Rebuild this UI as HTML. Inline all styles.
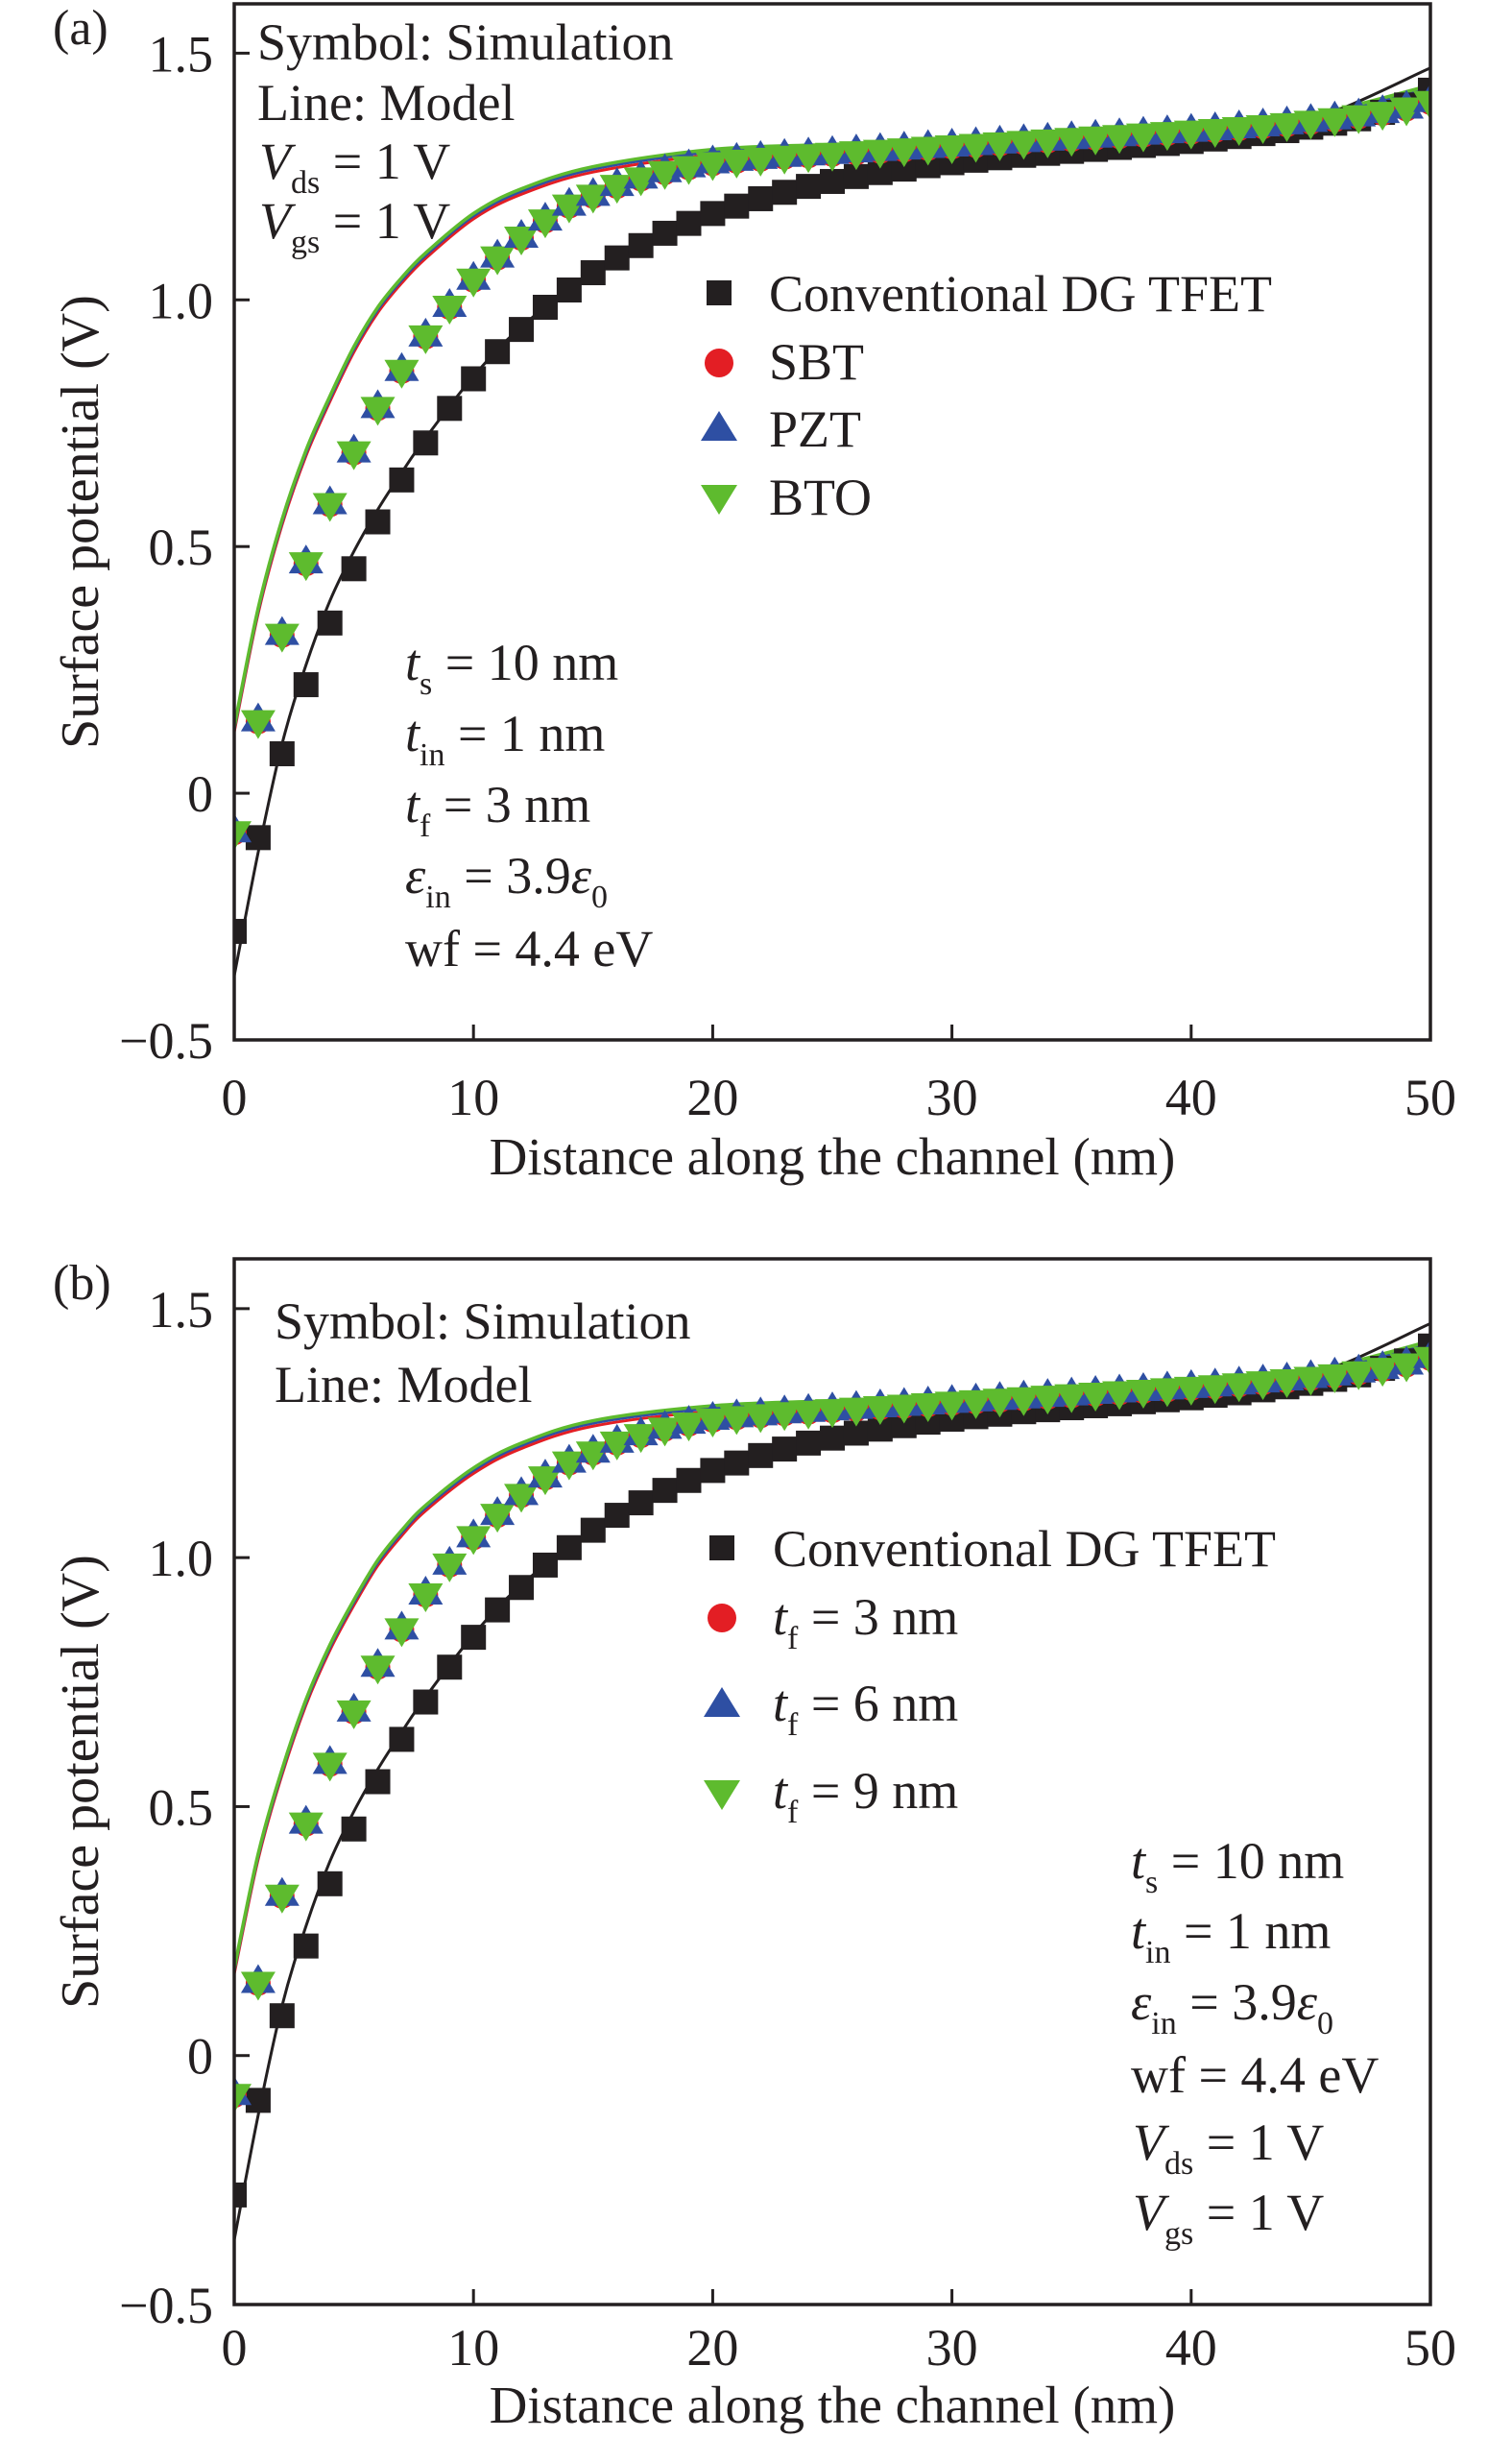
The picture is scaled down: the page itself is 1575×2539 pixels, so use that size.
<!DOCTYPE html>
<html><head><meta charset="utf-8"><style>
html,body{margin:0;padding:0;background:#fff}
svg{display:block}
text{font-family:"Liberation Serif",serif;fill:#231f20}
</style></head><body>
<svg id="s" width="1575" height="2539" viewBox="0 0 1575 2539" xmlns="http://www.w3.org/2000/svg"></svg>
<script>
const xSim = [0,1,2,3,4,5,6,7,8,9,10,11,12,13,14,15,16,17,18,19,20,21,22,23,24,25,26,27,28,29,30,31,32,33,34,35,36,37,38,39,40,41,42,43,44,45,46,47,48,49,50];
const convSim = [-0.28,-0.09,0.08,0.22,0.345,0.455,0.55,0.635,0.71,0.78,0.84,0.895,0.94,0.985,1.02,1.055,1.085,1.11,1.135,1.155,1.175,1.19,1.205,1.218,1.23,1.24,1.25,1.258,1.265,1.272,1.278,1.283,1.288,1.293,1.297,1.301,1.305,1.309,1.313,1.317,1.321,1.326,1.331,1.337,1.343,1.35,1.358,1.367,1.38,1.395,1.425];
const feSim = [-0.08,0.145,0.32,0.465,0.585,0.69,0.78,0.855,0.925,0.985,1.04,1.085,1.125,1.16,1.19,1.21,1.23,1.245,1.258,1.268,1.276,1.281,1.285,1.289,1.292,1.295,1.298,1.301,1.304,1.307,1.31,1.313,1.316,1.319,1.322,1.325,1.328,1.331,1.334,1.337,1.34,1.343,1.347,1.351,1.355,1.36,1.365,1.371,1.378,1.387,1.4];
const xModel = [0,1,2,3,4,5,6,7,8,10,12,15,20,25,30,35,40,45,50];
const convModel = [-0.37,-0.12,0.1,0.26,0.39,0.49,0.575,0.65,0.72,0.845,0.945,1.055,1.18,1.245,1.28,1.3,1.325,1.365,1.47];
const feModelA = [0.13,0.37,0.55,0.69,0.8,0.9,0.98,1.04,1.09,1.17,1.22,1.265,1.3,1.31,1.32,1.33,1.345,1.37,1.43];
const feModelB = [0.17,0.4,0.57,0.71,0.82,0.91,0.99,1.05,1.1,1.175,1.225,1.27,1.3,1.31,1.32,1.33,1.345,1.37,1.43];
const yTicks = [-0.5,0,0.5,1.0,1.5];
const yTickLabels = ["\u22120.5","0","0.5","1.0","1.5"];
const xTicks = [0,10,20,30,40,50];

const NS="http://www.w3.org/2000/svg";
const svg=document.getElementById('s');
function mk(tag,attrs,parent){const e=document.createElementNS(NS,tag);for(const k in attrs)e.setAttribute(k,attrs[k]);(parent||svg).appendChild(e);return e;}

function panel(P){
  const g=mk('g',{});
  
  
  const L=244,R=1490,T=P.top,B=P.bottom;
  const xs=v=>L+(v/50)*(R-L);
  const ys=v=>B-(v+0.5)/2.1*(B-T);
  const cid='c'+P.id;
  const cp=mk('clipPath',{id:cid},g);mk('rect',{x:L,y:T,width:R-L,height:B-T},cp);
  const plot=mk('g',{'clip-path':'url(#'+cid+')'},g);
  
  
  function pathOf(xa,ya){
    const pts=xa.map((x,i)=>[xs(x),ys(ya[i])]);
    let d='M'+pts[0][0]+','+pts[0][1];
    for(let i=0;i<pts.length-1;i++){
      const p0=pts[Math.max(0,i-1)],p1=pts[i],p2=pts[i+1],p3=pts[Math.min(pts.length-1,i+2)];
      const c1=[p1[0]+(p2[0]-p0[0])/6,p1[1]+(p2[1]-p0[1])/6];
      const c2=[p2[0]-(p3[0]-p1[0])/6,p2[1]-(p3[1]-p1[1])/6];
      d+=` C${c1[0]},${c1[1]} ${c2[0]},${c2[1]} ${p2[0]},${p2[1]}`;
    }
    return d;
  }
  const fm=P.feModel;
  const l1=mk('path',{d:pathOf(xModel,fm.map(v=>v-0.006)),fill:'none',stroke:'#e31e24','stroke-width':3},plot);
  
  const l2=mk('path',{d:pathOf(xModel,fm),fill:'none',stroke:'#2e4fa3','stroke-width':3},plot);
  
  const l3=mk('path',{d:pathOf(xModel,fm.map(v=>v+0.005)),fill:'none',stroke:'#5ebb2e','stroke-width':3.5},plot);
  
  const l4=mk('path',{d:pathOf(xModel,convModel),fill:'none',stroke:'#231f20','stroke-width':3},plot);
  
  xSim.forEach((x,i)=>{
    const cx=xs(x),cy=ys(convSim[i]);
    const r=mk('rect',{x:cx-13,y:cy-13,width:26,height:26,fill:'#231f20'},plot);
    
  });
  xSim.forEach((x,i)=>{
    const cx=xs(x),cy=ys(feSim[i]);
    const c=mk('circle',{cx:cx,cy:cy,r:13,fill:'#e31e24'},plot);
    
    const t=mk('polygon',{points:`${cx-18},${cy+10} ${cx+18},${cy+10} ${cx},${cy-20}`,fill:'#2e4fa3'},plot);
    
    const v=mk('polygon',{points:`${cx-18},${cy-12} ${cx+18},${cy-12} ${cx},${cy+18}`,fill:'#5ebb2e'},plot);
    
  });
  const fr=mk('rect',{x:L,y:T,width:R-L,height:B-T,fill:'none',stroke:'#231f20','stroke-width':3.5},g);
  
  yTicks.forEach((v,i)=>{
    const y=ys(v);
    const tk=mk('line',{x1:L,x2:L+16,y1:y,y2:y,stroke:'#231f20','stroke-width':3},g);
    
    const t=mk('text',{x:L-22,y:y+19,'text-anchor':'end','font-size':54},g);
    t.textContent=yTickLabels[i];
    
  });
  xTicks.forEach(v=>{
    const x=xs(v);
    const tk=mk('line',{x1:x,x2:x,y1:B,y2:B-16,stroke:'#231f20','stroke-width':3},g);
    
    const t=mk('text',{x:x,y:B+P.tickOff,'text-anchor':'middle','font-size':54},g);
    t.textContent=String(v);
    
  });
  const xt=mk('text',{x:(L+R)/2,y:B+P.titleOff,'text-anchor':'middle','font-size':55},g);
  xt.textContent='Distance along the channel (nm)';
  
  const yc=(T+B)/2;
  const yt=mk('text',{x:0,y:0,'text-anchor':'middle','font-size':56,transform:`translate(102,${yc}) rotate(-90)`},g);
  yt.textContent='Surface potential (V)';
  
  const pl=mk('text',{x:55,y:P.top+42,'font-size':52},g);
  pl.textContent=P.label;
  
  return g;
}
panel({id:'a',name:'panel-a',top:4,bottom:1083,feModel:feModelA,label:'(a)',tickOff:78,titleOff:140});
panel({id:'b',name:'panel-b',top:1311,bottom:2400,feModel:feModelB,label:'(b)',tickOff:63,titleOff:123});
</script>
<script>
(function(){
const s=document.getElementById('s');
function add(html){s.insertAdjacentHTML('beforeend',html);}
const sub='font-size="34" dy="15"';
add(`<g>
<text x="268" y="62" font-size="54">Symbol: Simulation</text>
<text x="268" y="125" font-size="54">Line: Model</text>
<text x="270" y="186" font-size="54"><tspan font-style="italic">V</tspan><tspan ${sub}>ds</tspan><tspan dy="-15"> = 1 V</tspan></text>
<text x="270" y="248" font-size="54"><tspan font-style="italic">V</tspan><tspan ${sub}>gs</tspan><tspan dy="-15"> = 1 V</tspan></text>
<text x="422" y="708" font-size="54"><tspan font-style="italic">t</tspan><tspan ${sub}>s</tspan><tspan dy="-15"> = 10 nm</tspan></text>
<text x="422" y="782" font-size="54"><tspan font-style="italic">t</tspan><tspan ${sub}>in</tspan><tspan dy="-15"> = 1 nm</tspan></text>
<text x="422" y="856" font-size="54"><tspan font-style="italic">t</tspan><tspan ${sub}>f</tspan><tspan dy="-15"> = 3 nm</tspan></text>
<text x="422" y="930" font-size="54"><tspan font-style="italic">ε</tspan><tspan ${sub}>in</tspan><tspan dy="-15"> = 3.9</tspan><tspan font-style="italic">ε</tspan><tspan ${sub}>0</tspan></text>
<text x="422" y="1006" font-size="54">wf = 4.4 eV</text>
</g>
<g>
<rect x="736" y="292" width="26" height="26" fill="#231f20"/>
<text x="801" y="324" font-size="54">Conventional DG TFET</text>
<circle cx="749" cy="378" r="15" fill="#e31e24"/>
<text x="801" y="395" font-size="54">SBT</text>
<polygon points="730,459 768,459 749,428" fill="#2e4fa3"/>
<text x="801" y="465" font-size="54">PZT</text>
<polygon points="730,505 768,505 749,536" fill="#5ebb2e"/>
<text x="801" y="536" font-size="54">BTO</text>
</g>
<g>
<text x="286" y="1394" font-size="54">Symbol: Simulation</text>
<text x="286" y="1460" font-size="54">Line: Model</text>
<text x="1178" y="1956" font-size="54"><tspan font-style="italic">t</tspan><tspan ${sub}>s</tspan><tspan dy="-15"> = 10 nm</tspan></text>
<text x="1178" y="2029" font-size="54"><tspan font-style="italic">t</tspan><tspan ${sub}>in</tspan><tspan dy="-15"> = 1 nm</tspan></text>
<text x="1178" y="2103" font-size="54"><tspan font-style="italic">ε</tspan><tspan ${sub}>in</tspan><tspan dy="-15"> = 3.9</tspan><tspan font-style="italic">ε</tspan><tspan ${sub}>0</tspan></text>
<text x="1178" y="2179" font-size="54">wf = 4.4 eV</text>
<text x="1180" y="2249" font-size="54"><tspan font-style="italic">V</tspan><tspan ${sub}>ds</tspan><tspan dy="-15"> = 1 V</tspan></text>
<text x="1180" y="2322" font-size="54"><tspan font-style="italic">V</tspan><tspan ${sub}>gs</tspan><tspan dy="-15"> = 1 V</tspan></text>
</g>
<g>
<rect x="739" y="1599" width="26" height="26" fill="#231f20"/>
<text x="805" y="1631" font-size="54">Conventional DG TFET</text>
<circle cx="752" cy="1685" r="15" fill="#e31e24"/>
<text x="805" y="1702" font-size="54"><tspan font-style="italic">t</tspan><tspan ${sub}>f</tspan><tspan dy="-15"> = 3 nm</tspan></text>
<polygon points="733,1788 771,1788 752,1757" fill="#2e4fa3"/>
<text x="805" y="1792" font-size="54"><tspan font-style="italic">t</tspan><tspan ${sub}>f</tspan><tspan dy="-15"> = 6 nm</tspan></text>
<polygon points="733,1854 771,1854 752,1885" fill="#5ebb2e"/>
<text x="805" y="1883" font-size="54"><tspan font-style="italic">t</tspan><tspan ${sub}>f</tspan><tspan dy="-15"> = 9 nm</tspan></text>
</g>`);
})();
</script>
</body></html>
